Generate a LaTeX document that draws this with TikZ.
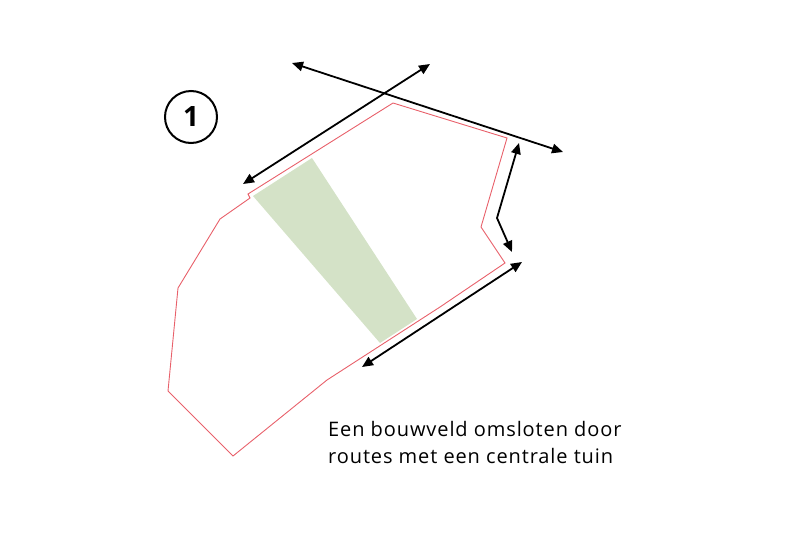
\documentclass[tikz,border=0pt]{standalone}
\usepackage{fontspec}
\setmainfont{Open Sans}
\newfontfamily\labelfont[LetterSpace=4.5]{Open Sans}
\usetikzlibrary{arrows.meta}

\definecolor{plotred}{HTML}{E8606A}
\definecolor{tuingreen}{HTML}{D4E2C7}

\tikzset{
	route/.style={line width=1.8pt,{Triangle[length=11pt,width=9.5pt]}-{Triangle[length=11pt,width=9.5pt]}},
	plot/.style={draw=plotred,line width=0.9pt,line join=miter}
}

\begin{document}
\begin{tikzpicture}[x=1pt,y=-1pt]

	\useasboundingbox (0,0) rectangle (800,536);

	% centrale tuin
	\fill[tuingreen] (253,196) -- (312,158) -- (417,319) -- (380,343) -- cycle;

	% bouwveld
	\draw[plot] (393,103) -- (507,138) -- (481,227) -- (505,263) -- (440,307)
		-- (327,380) -- (233,456) -- (168,391) -- (178,288) -- (220,219)
		-- (250,198) -- (248,194) -- cycle;

	\node[shape=circle,draw=black,line width=2pt,minimum size=52pt,inner sep=0pt,font=\fontsize{28}{30}\selectfont\bfseries] (nr) at (191,117) {1};

	\coordinate (a1) at (243,184);
	\coordinate (a2) at (430,64);
	\coordinate (b1) at (292,63);
	\coordinate (b2) at (563,152);
	\coordinate (c1) at (519,143);
	\coordinate (c2) at (497,218);
	\coordinate (c3) at (512,252);
	\coordinate (d1) at (522,262);
	\coordinate (d2) at (362,367);

	\draw[route] (a1) -- (a2);
	\draw[route] (b1) -- (b2);
	\draw[route] (c1) -- (c2) -- (c3);
	\draw[route] (d1) -- (d2);

	\node[anchor=base west,align=left,font=\labelfont\fontsize{20}{27}\selectfont,inner sep=0pt] (label) at (328,463)
		{Een bouwveld omsloten door\\routes met een centrale tuin};

\end{tikzpicture}
\end{document}
